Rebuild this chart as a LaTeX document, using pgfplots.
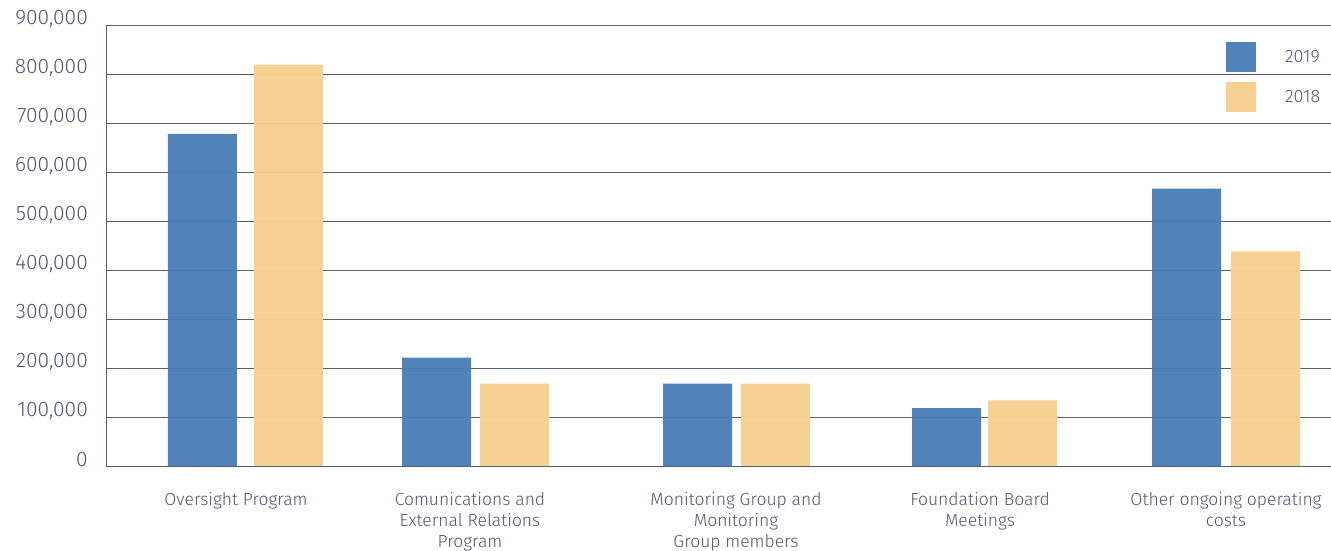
\documentclass[border=0pt]{standalone}
\usepackage{fontspec}
\setmainfont{Fira Sans}[UprightFont=* Light]
\usepackage{pgfplots}
\pgfplotsset{compat=1.18}
\definecolor{barblue}{RGB}{74,127,184}
\definecolor{barorange}{RGB}{246,208,143}
\definecolor{txt}{RGB}{77,86,112}
\definecolor{gridc}{RGB}{84,94,122}
\begin{document}
\begin{tikzpicture}
\useasboundingbox (-106pt,-85pt) rectangle (1225pt,466pt);
\begin{axis}[
  at={(0,0)}, anchor=south west,
  scale only axis, width=1225pt, height=441pt,
  xmin=106, xmax=1331, ymin=0, ymax=900000,
  scaled y ticks=false, scaled x ticks=false,
  axis x line=bottom, axis y line=left,
  axis line style={draw=gridc, line width=0.9pt, -},
  ymajorgrids, grid style={draw=gridc, line width=0.9pt},
  major tick length=0pt,
  ytick={0,100000,200000,300000,400000,500000,600000,700000,800000,900000},
  yticklabels={0,{100,000},{200,000},{300,000},{400,000},{500,000},{600,000},{700,000},{800,000},{900,000}},
  yticklabel style={font=\fontsize{21}{24}\selectfont, text=txt, anchor=east, inner sep=0pt, xshift=-18pt, yshift=6pt},
  xtick={236,470,736,980,1226},
  xticklabels={Oversight Program, {Comunications and\\External Relations\\Program}, {Monitoring Group and\\Monitoring\\Group members}, {Foundation Board\\Meetings}, {Other ongoing operating\\costs}},
  xticklabel style={font=\fontsize{17.5}{21}\selectfont, text=txt, align=center, anchor=north, inner sep=0pt, yshift=-26pt},
  ybar, bar width=69pt,
  legend style={at={(0.9143,0.9615)}, anchor=north west, draw=none, fill=none, inner sep=0pt, outer sep=0pt,
    row sep=10pt, column sep=29pt, font=\fontsize{18}{20}\selectfont, text=txt,
    nodes={inner sep=0pt}},
  legend cell align=left,
  legend image code/.code={\fill[#1] (0pt,-15pt) rectangle (30pt,15pt);},
  clip=false,
]
\addplot[fill=barblue, draw=none, fill opacity=0.97, bar shift=0pt] coordinates {
  (202.5,678000) (436.5,221000) (697.5,168000) (946.5,118000) (1186.5,566000)};
\addlegendentry{2019}
\addplot[fill=barorange, draw=none, fill opacity=0.97, bar shift=0pt] coordinates {
  (288.5,819000) (514.5,168000) (775.5,168000) (1022.5,134000) (1265.5,438000)};
\addlegendentry{2018}
\end{axis}
\end{tikzpicture}
\end{document}
